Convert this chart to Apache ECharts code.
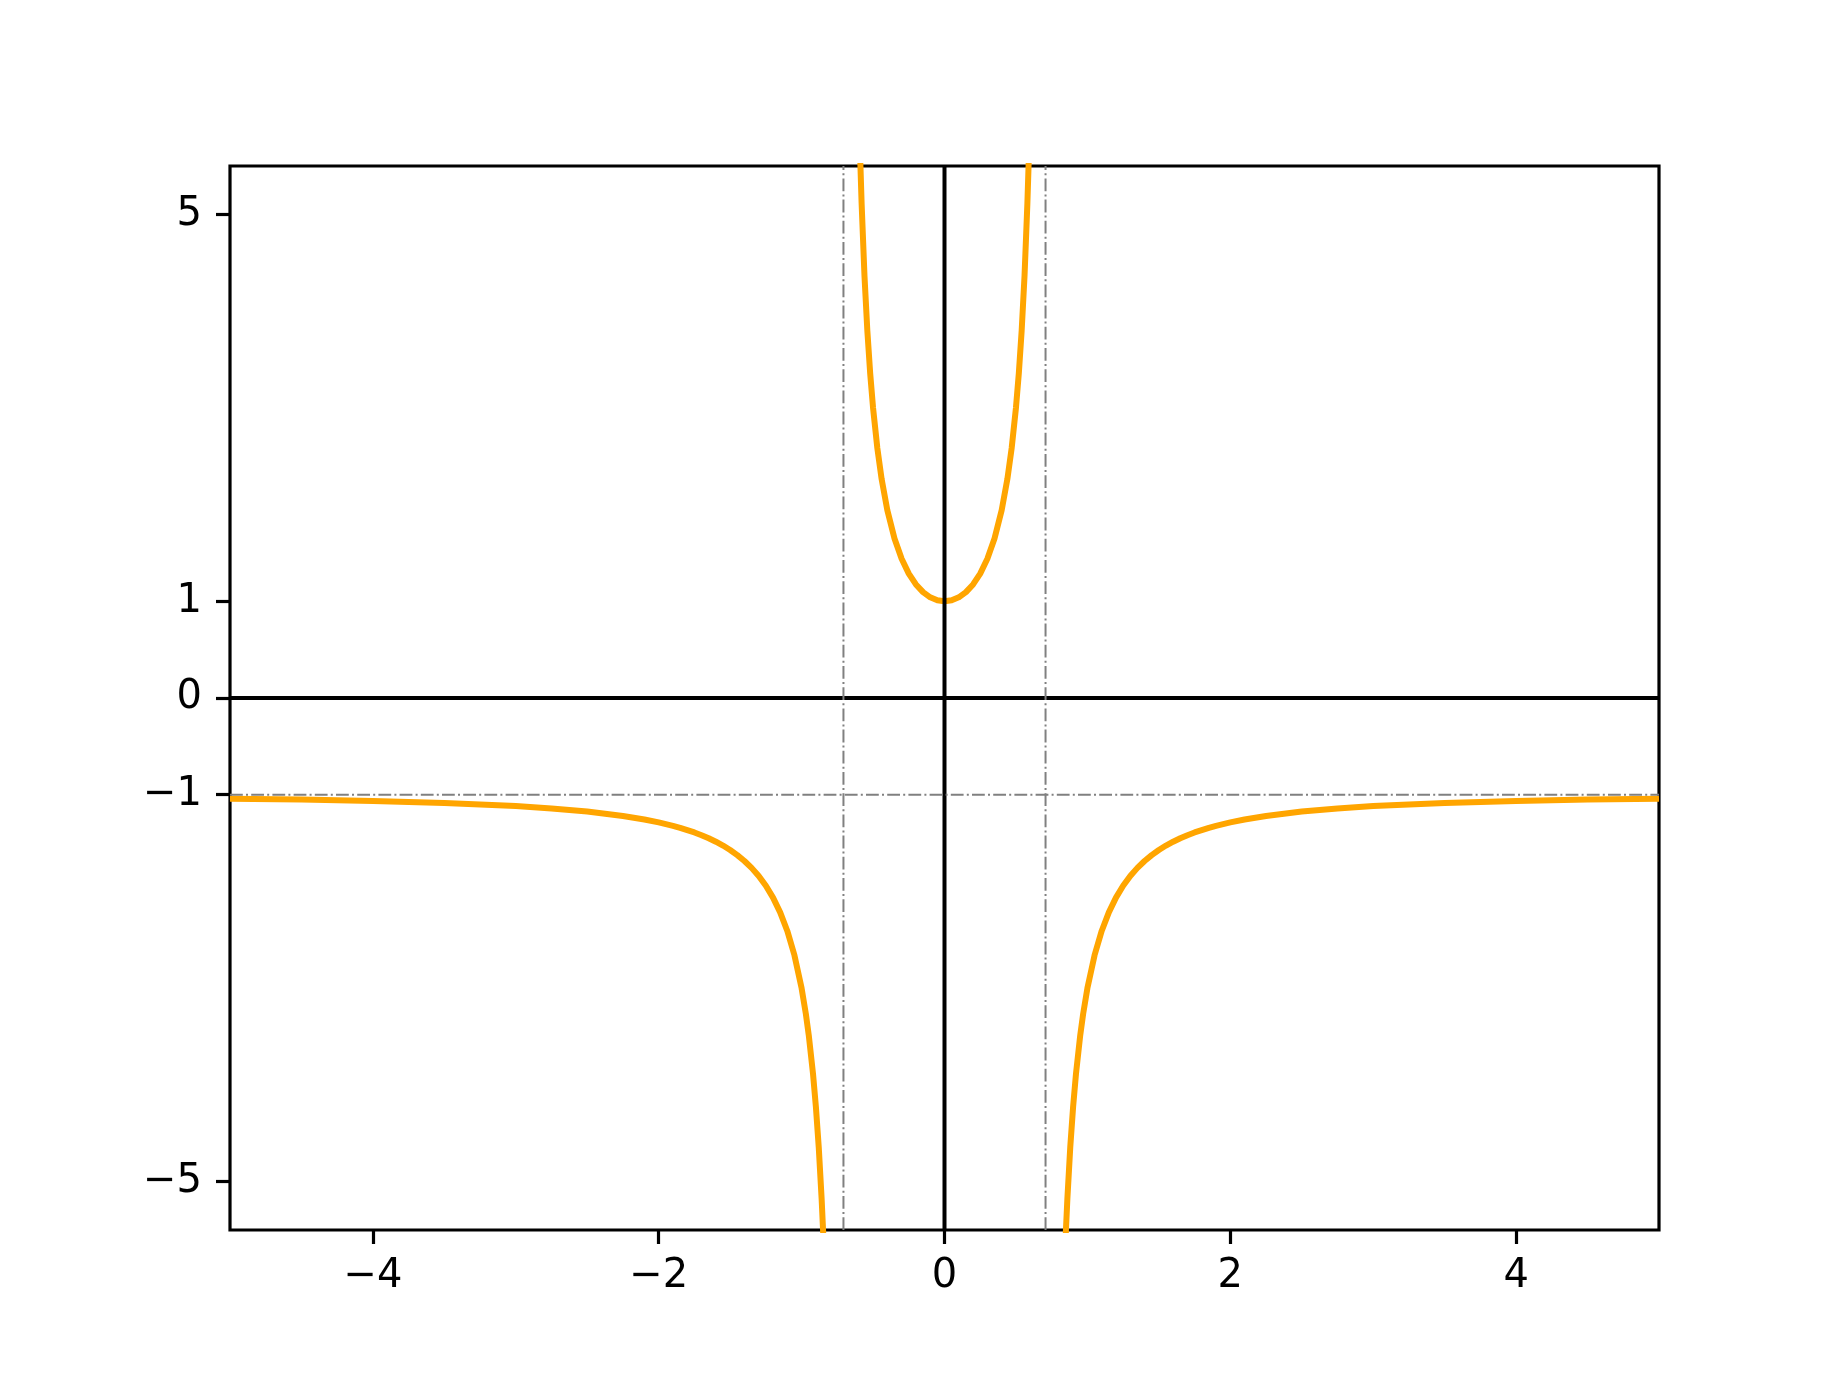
<!DOCTYPE html>
<html>
<head>
<meta charset="utf-8">
<script src="https://cdn.jsdelivr.net/npm/echarts@6/dist/echarts.min.js"></script>
<style>
  html, body { margin: 0; padding: 0; background: #fff; }
  #chart { width: 1843px; height: 1382px; }
</style>
</head>
<body>
<div id="chart"></div>
<script>
// values
var leftBranch = [
  [-5, -1.0408], [-4.5, -1.0506], [-4, -1.0645], [-3.5, -1.0851], [-3, -1.1176],
  [-2.75, -1.1416], [-2.5, -1.1739], [-2.25, -1.2192], [-2.1, -1.2558], [-2, -1.2857],
  [-1.9, -1.3215], [-1.85, -1.3422], [-1.75, -1.3902], [-1.7, -1.4184], [-1.65, -1.4499],
  [-1.6, -1.4854], [-1.55, -1.5256], [-1.5, -1.5714], [-1.45, -1.6240], [-1.4, -1.6849],
  [-1.35, -1.7561], [-1.3, -1.8403], [-1.25, -1.9412], [-1.2, -2.0638], [-1.15, -2.2158],
  [-1.1, -2.4085], [-1.05, -2.6598], [-1.0, -3.0], [-0.97, -3.2681], [-0.95, -3.4845],
  [-0.92, -3.8868], [-0.9, -4.2258], [-0.88, -4.6443], [-0.86, -5.1736], [-0.85, -5.4944],
  [-0.84, -5.8638]
]
var rightBranch = [
  [0.84, -5.8638], [0.85, -5.4944], [0.86, -5.1736], [0.88, -4.6443], [0.9, -4.2258],
  [0.92, -3.8868], [0.95, -3.4845], [0.97, -3.2681], [1.0, -3.0], [1.05, -2.6598],
  [1.1, -2.4085], [1.15, -2.2158], [1.2, -2.0638], [1.25, -1.9412], [1.3, -1.8403],
  [1.35, -1.7561], [1.4, -1.6849], [1.45, -1.6240], [1.5, -1.5714], [1.55, -1.5256],
  [1.6, -1.4854], [1.65, -1.4499], [1.7, -1.4184], [1.75, -1.3902], [1.85, -1.3422],
  [1.9, -1.3215], [2, -1.2857], [2.1, -1.2558], [2.25, -1.2192], [2.5, -1.1739],
  [2.75, -1.1416], [3, -1.1176], [3.5, -1.0851], [4, -1.0645], [4.5, -1.0506],
  [5, -1.0408]
]
var middleBranch = [
  [-0.6, 6.1429], [-0.59, 5.5833], [-0.58, 5.1125], [-0.56, 4.3648], [-0.54, 3.7985],
  [-0.52, 3.3554], [-0.5, 3.0], [-0.47, 2.5830], [-0.44, 2.2637], [-0.4, 1.9412],
  [-0.35, 1.6490], [-0.3, 1.4390], [-0.25, 1.2857], [-0.2, 1.1739], [-0.15, 1.0942],
  [-0.1, 1.0408], [-0.05, 1.0101], [0, 1.0], [0.05, 1.0101], [0.1, 1.0408],
  [0.15, 1.0942], [0.2, 1.1739], [0.25, 1.2857], [0.3, 1.4390], [0.35, 1.6490],
  [0.4, 1.9412], [0.44, 2.2637], [0.47, 2.5830], [0.5, 3.0], [0.52, 3.3554],
  [0.54, 3.7985], [0.56, 4.3648], [0.58, 5.1125], [0.59, 5.5833], [0.6, 6.1429]
]
var xTicks = [-4, -2, 0, 2, 4]
var yTicks = [-5, -1, 0, 1, 5]
var xRange = [-5, 5]
var yRange = [-5.5, 5.5]
var asymX = [-0.7071, 0.7071]
var asymY = -1

var chart = echarts.init(document.getElementById('chart'), null, { renderer: 'canvas' })

function minus(v) {
  return String(v).replace('-', '\u2212')
}

var curveStyle = { color: '#ffa500', width: 6, join: 'round', cap: 'butt' }
var dashStyle = { color: '#808080', width: 2, type: [12.8, 3.2, 2, 3.2] }

function curve(data) {
  return {
    type: 'line', data: data, showSymbol: false, symbol: 'none',
    smooth: false, clip: true,
    lineStyle: curveStyle, z: 2, silent: true, animation: false
  }
}

function straight(data, style, z) {
  return {
    type: 'line', data: data, showSymbol: false, symbol: 'none',
    lineStyle: style, z: z, silent: true, animation: false
  }
}

var option = {
  backgroundColor: '#fff',
  animation: false,
  textStyle: { fontFamily: 'DejaVu Sans' },
  grid: {
    left: 230, top: 166, width: 1429, height: 1064,
    show: true, borderColor: '#000', borderWidth: 3.2, backgroundColor: 'transparent'
  },
  xAxis: {
    type: 'value', min: xRange[0], max: xRange[1],
    splitLine: { show: false },
    axisLine: { show: false, onZero: false },
    axisTick: { show: true, length: 14, inside: false, customValues: xTicks, lineStyle: { color: '#000', width: 3.2 } },
    axisLabel: { show: true, customValues: xTicks, margin: 27, fontSize: 40, color: '#000', fontFamily: 'DejaVu Sans', formatter: minus }
  },
  yAxis: {
    type: 'value', min: yRange[0], max: yRange[1],
    splitLine: { show: false },
    axisLine: { show: false, onZero: false },
    axisTick: { show: true, length: 14, inside: false, customValues: yTicks, lineStyle: { color: '#000', width: 3.2 } },
    axisLabel: { show: true, customValues: yTicks, margin: 28, padding: [11, 0, 0, 0], fontSize: 40, color: '#000', fontFamily: 'DejaVu Sans', formatter: minus }
  },
  series: [
    curve(leftBranch),
    curve(middleBranch),
    curve(rightBranch),
    straight([[xRange[0], 0], [xRange[1], 0]], { color: '#000', width: 4 }, 3),
    straight([[0, yRange[0]], [0, yRange[1]]], { color: '#000', width: 4 }, 3),
    straight([[asymX[0], yRange[0]], [asymX[0], yRange[1]]], dashStyle, 3),
    straight([[asymX[1], yRange[0]], [asymX[1], yRange[1]]], dashStyle, 3),
    straight([[xRange[0], asymY], [xRange[1], asymY]], dashStyle, 3)
  ]
}

chart.setOption(option)
</script>
</body>
</html>
